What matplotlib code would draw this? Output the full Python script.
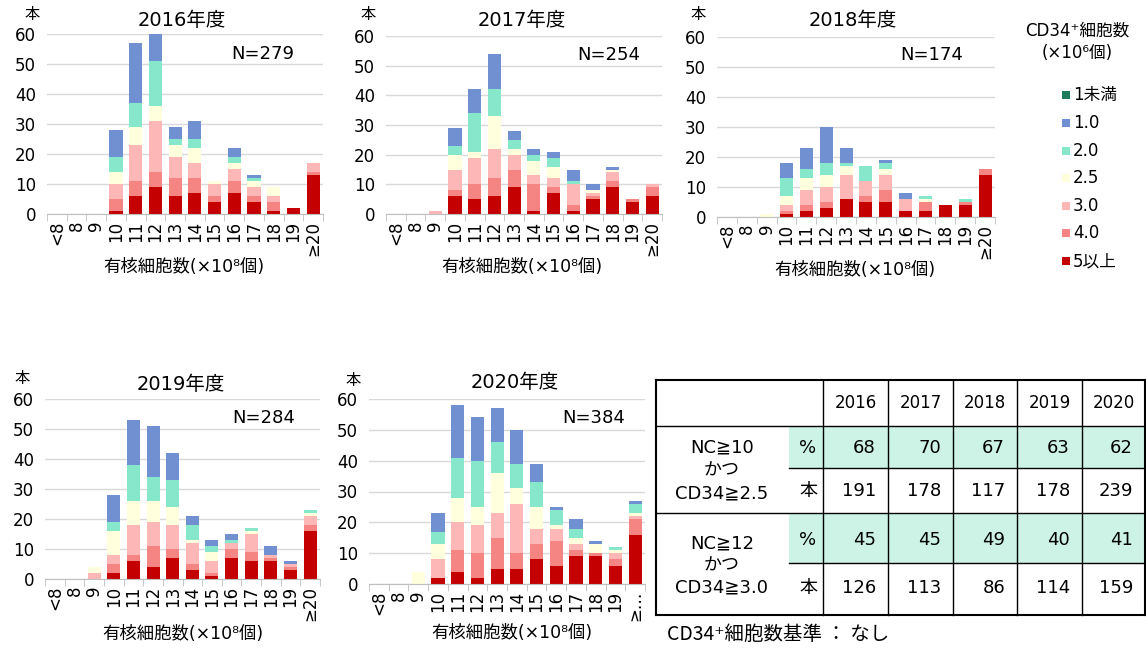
import matplotlib
matplotlib.use("Agg")
from matplotlib import pyplot as plt
from matplotlib.patches import Rectangle
import numpy as np

# latin glyphs from DejaVu (wide digits), Japanese from Noto CJK
plt.rcParams["font.family"] = ["DejaVu Sans", "Noto Sans CJK JP"]

W, H = 1146, 648

# categories of nucleated cell count (x10^8)
categories = ["<8", "8", "9", "10", "11", "12", "13", "14", "15", "16", "17", "18", "19", "≥20"]

# CD34+ classes, bottom of the stack first
cd34_labels = ["5以上", "4.0", "3.0", "2.5", "2.0", "1.0", "1未満"]
cd34_colors = ["#C40000", "#F48583", "#FDB7B7", "#FFFFDD", "#86E7CB", "#7090D2", "#1F7C5B"]

# rows follow cd34_labels (5以上 ... 1未満), columns follow categories
counts_2016 = [
    [0, 0, 0, 1, 6, 9, 6, 7, 4, 7, 4, 1, 2, 13],
    [0, 0, 0, 4, 5, 5, 6, 5, 2, 4, 2, 3, 0, 1],
    [0, 0, 0, 5, 12, 17, 7, 5, 4, 4, 3, 2, 0, 3],
    [0, 0, 0, 4, 6, 5, 4, 5, 1, 2, 2, 3, 0, 0],
    [0, 0, 0, 5, 8, 15, 2, 3, 0, 2, 1, 0, 0, 0],
    [0, 0, 0, 9, 20, 9, 4, 6, 0, 3, 1, 0, 0, 0],
    [0, 0, 0, 0, 0, 0, 0, 0, 0, 0, 0, 0, 0, 0],
]
counts_2017 = [
    [0, 0, 0, 6, 5, 6, 9, 1, 7, 1, 5, 9, 4, 6],
    [0, 0, 0, 2, 5, 6, 6, 9, 2, 2, 1, 2, 1, 3],
    [0, 0, 1, 7, 9, 10, 5, 3, 3, 7, 1, 3, 0, 1],
    [0, 0, 0, 5, 2, 11, 2, 5, 4, 0, 1, 1, 0, 0],
    [0, 0, 0, 3, 13, 9, 3, 2, 3, 1, 0, 0, 0, 0],
    [0, 0, 0, 6, 8, 12, 3, 2, 2, 4, 2, 1, 0, 0],
    [0, 0, 0, 0, 0, 0, 0, 0, 0, 0, 0, 0, 0, 0],
]
counts_2018 = [
    [0, 0, 0, 1, 2, 3, 6, 5, 5, 2, 2, 4, 4, 14],
    [0, 0, 0, 1, 2, 2, 0, 2, 4, 0, 3, 0, 1, 2],
    [0, 0, 0, 2, 5, 5, 8, 5, 5, 4, 0, 0, 0, 0],
    [0, 0, 1, 3, 4, 4, 3, 0, 2, 0, 1, 0, 0, 0],
    [0, 0, 0, 6, 3, 4, 1, 5, 2, 0, 1, 0, 1, 0],
    [0, 0, 0, 5, 7, 12, 5, 0, 1, 2, 0, 0, 0, 0],
    [0, 0, 0, 0, 0, 0, 0, 0, 0, 0, 0, 0, 0, 0],
]
counts_2019 = [
    [0, 0, 0, 2, 6, 4, 7, 3, 1, 7, 6, 6, 3, 16],
    [0, 0, 0, 3, 2, 7, 3, 2, 1, 3, 3, 1, 1, 2],
    [0, 0, 2, 3, 10, 8, 8, 7, 4, 2, 6, 1, 1, 3],
    [0, 0, 2, 8, 8, 7, 6, 1, 3, 0, 1, 0, 0, 1],
    [0, 0, 0, 3, 12, 8, 9, 5, 2, 1, 1, 0, 0, 1],
    [0, 0, 0, 9, 15, 17, 9, 3, 2, 2, 0, 3, 1, 0],
    [0, 0, 0, 0, 0, 0, 0, 0, 0, 0, 0, 0, 0, 0],
]
counts_2020 = [
    [0, 0, 0, 2, 4, 2, 5, 5, 8, 6, 9, 9, 6, 16],
    [0, 0, 0, 0, 7, 8, 10, 5, 5, 8, 2, 1, 2, 5],
    [0, 0, 0, 6, 9, 9, 8, 16, 5, 4, 2, 0, 2, 1],
    [0, 0, 4, 5, 8, 6, 13, 5, 7, 1, 2, 3, 1, 1],
    [0, 0, 0, 4, 13, 15, 10, 8, 8, 5, 3, 0, 1, 3],
    [0, 0, 0, 6, 17, 14, 11, 11, 6, 1, 3, 1, 0, 1],
    [0, 0, 0, 0, 0, 0, 0, 0, 0, 0, 0, 0, 0, 0],
]
n_totals = [279, 254, 174, 284, 384]

# summary table
years = ["2016", "2017", "2018", "2019", "2020"]
pct_nc10 = [68, 70, 67, 63, 62]
cnt_nc10 = [191, 178, 117, 178, 239]
pct_nc12 = [45, 45, 49, 40, 41]
cnt_nc12 = [126, 113, 86, 114, 159]


def px_rect(left, top, right, bottom):
    return [left / W, 1 - bottom / H, (right - left) / W, (bottom - top) / H]


fig = plt.figure(figsize=(W / 100, H / 100), dpi=100)

# overlay axes in pixel coordinates for free text and the table
ov = fig.add_axes([0, 0, 1, 1], zorder=0)
ov.set_xlim(0, W)
ov.set_ylim(H, 0)
ov.axis("off")


def draw_chart(rect, data, year, n, title_xy, n_xy, hon_xy, xlabel_xy, tick_labels):
    ax = fig.add_axes(px_rect(*rect), zorder=1)
    ax.patch.set_alpha(0)
    x = np.arange(len(categories))
    bottom = np.zeros(len(categories))
    for vals, color, lab in zip(data, cd34_colors, cd34_labels):
        vals = np.array(vals)
        ax.bar(x, vals, bottom=bottom, width=0.66, color=color, linewidth=0, label=lab)
        bottom += vals
    ax.set_xlim(-0.5, len(categories) - 0.5)
    ax.set_ylim(0, 60)
    ax.set_yticks(range(0, 61, 10))
    ax.yaxis.grid(True, color="#D9D9D9", linewidth=1)
    ax.set_axisbelow(True)
    for s in ["top", "right", "left"]:
        ax.spines[s].set_visible(False)
    ax.spines["bottom"].set_color("#BFBFBF")
    ax.set_xticks(x)
    ax.set_xticklabels(tick_labels, rotation=90, fontsize=12)
    ax.set_xticks(np.arange(-0.5, len(categories), 1), minor=True)
    ax.tick_params(axis="x", which="major", length=0, pad=5)
    ax.tick_params(axis="x", which="minor", length=5, color="#BFBFBF")
    ax.tick_params(axis="y", length=0, pad=8, labelsize=12)

    ov.text(*title_xy, f"{year}年度", fontsize=14, ha="center", va="center")
    ov.text(*n_xy, f"N={n}", fontsize=13, ha="center", va="center")
    ov.text(*hon_xy, "本", fontsize=11, ha="center", va="center")
    ov.text(*xlabel_xy, "有核細胞数(×10⁸個)", fontsize=12.5, ha="center", va="center")


last20 = categories[:-1] + ["≥…"]
draw_chart((47, 34, 323, 214), counts_2016, 2016, n_totals[0], (182, 20), (263, 54), (32, 15), (184, 267), categories)
draw_chart((386, 36, 662, 214), counts_2017, 2017, n_totals[1], (522, 20), (609, 55), (368, 15), (522, 267), categories)
draw_chart((717, 37, 995, 217), counts_2018, 2018, n_totals[2], (853, 20), (932, 55), (698, 15), (855, 270), categories)
draw_chart((45, 399, 320, 579), counts_2019, 2019, n_totals[3], (181, 384), (264, 418), (22, 378), (183, 634), categories)
draw_chart((369, 399, 645, 584), counts_2020, 2020, n_totals[4], (515, 382), (594, 418), (353, 380), (512, 633), last20)

# legend
ov.text(1077, 31, "CD34⁺細胞数", fontsize=12, ha="center", va="center")
ov.text(1077, 53, "(×10⁶個)", fontsize=12, ha="center", va="center")
leg_y = [95, 123, 151, 178, 206, 233, 261]
for yy, lab, col in zip(leg_y, cd34_labels[::-1], cd34_colors[::-1]):
    ov.add_patch(Rectangle((1062, yy - 4), 8, 8, color=col, linewidth=0))
    ov.text(1073, yy, lab, fontsize=12, ha="left", va="center")

# table
col_x = [823, 888, 953, 1017, 1082, 1145]
row_y = [380, 426, 468, 513, 563, 615]
left, sub_x = 656, 789
for r in (1, 3):
    ov.add_patch(Rectangle((sub_x, row_y[r]), col_x[-1] - sub_x, row_y[r + 1] - row_y[r],
                           color="#CDF3E6", linewidth=0))
for i, yy in enumerate(row_y):
    x0 = sub_x if i in (2, 4) else left
    lw = 1.5 if i in (0, 5) else 1
    ov.plot([x0, col_x[-1]], [yy, yy], color="black", lw=lw)
for xx in [left] + col_x:
    lw = 1.5 if xx in (left, col_x[-1]) else 1
    ov.plot([xx, xx], [row_y[0], row_y[-1]], color="black", lw=lw)

for j, yr in enumerate(years):
    ov.text((col_x[j] + col_x[j + 1]) / 2, 403, yr, fontsize=12, ha="center", va="center")

rows = [(pct_nc10, 448, "%"), (cnt_nc10, 491, "本"), (pct_nc12, 540, "%"), (cnt_nc12, 588, "本")]
for vals, yy, unit in rows:
    ov.text(808, yy, unit, fontsize=13, ha="center", va="center")
    for j, v in enumerate(vals):
        ov.text(col_x[j + 1] - 12, yy, str(v), fontsize=13, ha="right", va="center")

for lines, ys in [(("NC≧10", "かつ", "CD34≧2.5"), (448, 471, 493)),
                  (("NC≧12", "かつ", "CD34≧3.0"), (543, 566, 588))]:
    for s, yy in zip(lines, ys):
        ov.text(722, yy, s, fontsize=13, ha="center", va="center")

ov.text(667, 634, "CD34⁺細胞数基準 ： なし", fontsize=14, ha="left", va="center",
        family=["Noto Sans CJK JP", "DejaVu Sans"])

fig.savefig("out.png", dpi=100)
